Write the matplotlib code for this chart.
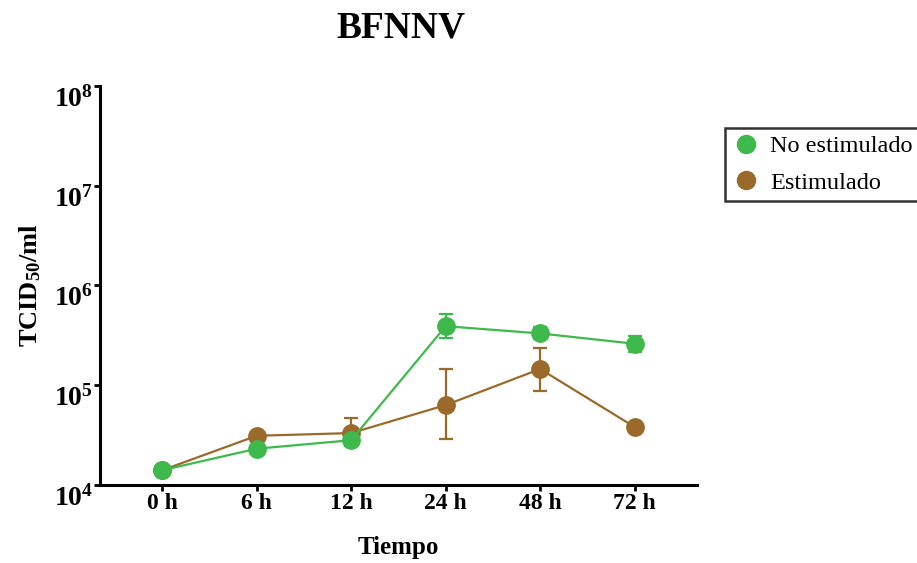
import numpy as np
import matplotlib
matplotlib.use("Agg")
import matplotlib.pyplot as plt
import matplotlib.lines as mlines

times = ["0 h", "6 h", "12 h", "24 h", "48 h", "72 h"]

no_estim = [1.4e4, 2.3e4, 2.8e4, 3.9e5, 3.3e5, 2.6e5]
no_estim_lo = [1.4e4, 2.2e4, 2.45e4, 2.95e5, 2.9e5, 2.15e5]
no_estim_hi = [1.4e4, 2.4e4, 3.2e4, 5.2e5, 3.8e5, 3.1e5]

estim = [1.4e4, 3.1e4, 3.3e4, 6.3e4, 1.45e5, 3.8e4]
estim_lo = [1.4e4, 2.9e4, 2.45e4, 2.9e4, 8.7e4, 3.6e4]
estim_hi = [1.4e4, 3.3e4, 4.7e4, 1.45e5, 2.35e5, 4.0e4]

green = "#3dba4b"
brown = "#9b6a2b"

plt.rcParams["font.family"] = "Liberation Serif"
plt.rcParams["font.weight"] = "bold"
plt.rcParams["mathtext.fontset"] = "custom"
plt.rcParams["mathtext.rm"] = "Liberation Serif:bold"
plt.rcParams["mathtext.it"] = "Liberation Serif:bold"
plt.rcParams["mathtext.bf"] = "Liberation Serif:bold"

fig = plt.figure(figsize=(9.17, 5.63), dpi=100)
ax = fig.add_axes([0.109, 0.139, 0.651, 0.708])

x = np.arange(len(times))

def draw(vals, lo, hi, col, label):
    vals = np.array(vals)
    err = [vals - np.array(lo), np.array(hi) - vals]
    ax.errorbar(x, vals, yerr=err, color=col, marker="o", markersize=12.5,
                linewidth=1.6, elinewidth=1.6, capsize=5, capthick=1.6, label=label)

draw(estim, estim_lo, estim_hi, brown, "Estimulado")
draw(no_estim, no_estim_lo, no_estim_hi, green, "No estimulado")

ax.set_yscale("log")
ax.set_ylim(1e4, 1e8)
ax.set_xlim(-0.66, 5.66)
ax.set_yticks([1e4, 1e5, 1e6, 1e7, 1e8])
# labels hang just below their ticks in the original
ax.set_yticklabels([r"$10^{%d}$" % k for k in range(4, 9)], fontsize=20, va="top")
ax.minorticks_off()
ax.set_xticks(x)
ax.set_xticklabels(times, fontsize=17, fontweight="bold")

for s in ["top", "right"]:
    ax.spines[s].set_visible(False)
for s in ["left", "bottom"]:
    ax.spines[s].set_linewidth(2.2)
ax.tick_params(width=2, length=4.5)
ax.tick_params(axis="y", pad=0.5)
ax.tick_params(axis="x", pad=1.5)

ax.set_xlabel("Tiempo", fontsize=18, fontweight="bold", labelpad=16)
ax.set_ylabel(r"TCID$_{50}$/ml", fontsize=19, fontweight="bold", labelpad=8)
fig.text(0.437, 0.95, "BFNNV", fontsize=27, fontweight="bold", ha="center", va="center")

handles = [mlines.Line2D([], [], color=green, marker="o", linestyle="none", markersize=13),
           mlines.Line2D([], [], color=brown, marker="o", linestyle="none", markersize=13)]
leg = fig.legend(handles, ["No estimulado", "Estimulado"], loc="upper left",
                 bbox_to_anchor=(725 / 917, 1 - 202 / 563, 210 / 917, 74 / 563), mode="expand",
                 frameon=True, fancybox=False,
                 prop={"family": "Liberation Serif", "weight": "normal", "size": 17.5},
                 handletextpad=0.45, borderpad=0.3, labelspacing=0.6, handlelength=1.1,
                 borderaxespad=0)
leg.get_frame().set_edgecolor("black")
leg.get_frame().set_linewidth(1.8)

fig.savefig("out.png", dpi=100)
